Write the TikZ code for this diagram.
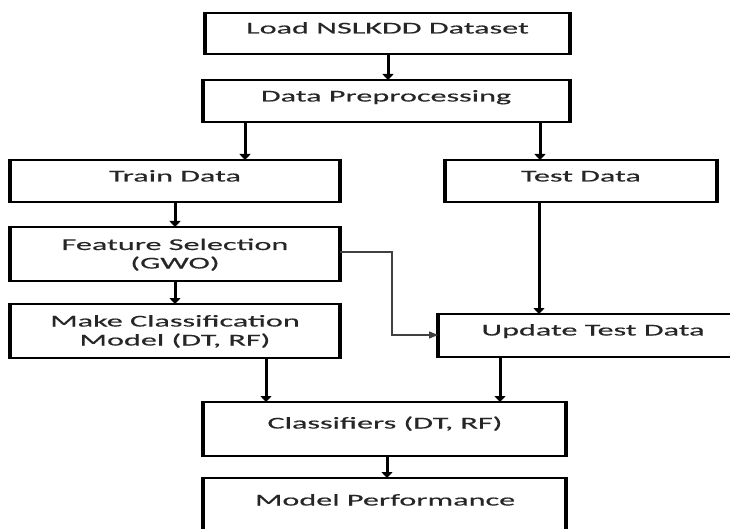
\documentclass[tikz,border=0pt]{standalone}
\usepackage{fontspec}
\setmainfont[FakeStretch=1.95,FakeBold=0.4]{Carlito}
\usetikzlibrary{arrows.meta}
\begin{document}
\begin{tikzpicture}[x=1pt,y=-1pt,
  box/.style={draw=black, line width=2.4pt, rectangle, inner sep=0pt, outer sep=0pt, anchor=north west,
    append after command={(\tikzlastnode.north west) edge[line width=4pt, shorten <=-1.2pt, shorten >=-1.2pt] (\tikzlastnode.south west)
      (\tikzlastnode.north east) edge[line width=4pt, shorten <=-1.2pt, shorten >=-1.2pt] (\tikzlastnode.south east)}},
  lbl/.style={anchor=base, text=black!85, font=\fontsize{16.5}{19}\selectfont, inner sep=0pt},
  arr/.style={line width=3pt, -{Triangle[length=6pt,width=11pt]}},
  thinarr/.style={line width=1.3pt, draw=black!75, -{Triangle[length=9pt,width=7pt]}}]
\useasboundingbox (0,0) rectangle (730,529);
% boxes
\node[box, minimum width=365pt, minimum height=41pt] (load) at (205,13) {};
\node[box, minimum width=367pt, minimum height=42pt] (dp) at (203,80) {};
\node[box, minimum width=330pt, minimum height=42pt] (train) at (10,160) {};
\node[box, minimum width=272pt, minimum height=42pt] (test) at (445,160) {};
\node[box, minimum width=330pt, minimum height=54pt] (fs) at (10,227) {};
\node[box, minimum width=330pt, minimum height=54pt] (mc) at (10,304) {};
\node[box, minimum width=310pt, minimum height=43pt] (upd) at (438,314) {};
\node[box, minimum width=363pt, minimum height=54pt] (cls) at (203,402) {};
\node[box, minimum width=363pt, minimum height=62pt] (mp) at (203,478) {};
% labels
\node[lbl] (loadT) at (387.5,33.5) {Load NSLKDD Dataset};
\node[lbl] (dpT) at (386,101.5) {Data Preprocessing};
\node[lbl] (trainT) at (175,181.5) {Train Data};
\node[lbl] (testT) at (581,181.5) {Test Data};
\node[lbl] (fsT1) at (175,250) {Feature Selection};
\node[lbl] (fsT2) at (175,268.5) {(GWO)};
\node[lbl] (mcT1) at (175,326.5) {Make Classification};
\node[lbl] (mcT2) at (175,345.5) {Model (DT, RF)};
\node[lbl] (updT) at (593,335.5) {Update Test Data};
\node[lbl] (clsT) at (385,428.5) {Classifiers (DT, RF)};
\node[lbl] (mpT) at (385,505.5) {Model Performance};
% connector x positions
\coordinate (xa) at (388,0);
\coordinate (xb) at (245,0);
\coordinate (xc) at (540,0);
\coordinate (xd) at (175,0);
\coordinate (xe) at (539,0);
\coordinate (xf) at (266,0);
\coordinate (xg) at (500,0);
\coordinate (xh) at (387,0);
\coordinate (k1) at (392,252);
\coordinate (k2) at (392,335);
% connectors
\draw[arr] (load.south -| xa) -- (dp.north -| xa);
\draw[arr] (dp.south -| xb) -- (train.north -| xb);
\draw[arr] (dp.south -| xc) -- (test.north -| xc);
\draw[arr] (train.south -| xd) -- (fs.north -| xd);
\draw[arr] (fs.south -| xd) -- (mc.north -| xd);
\draw[arr] (test.south -| xe) -- (upd.north -| xe);
\draw[arr] (mc.south -| xf) -- (cls.north -| xf);
\draw[arr] (upd.south -| xg) -- (cls.north -| xg);
\draw[arr] (cls.south -| xh) -- (mp.north -| xh);
\draw[thinarr] (fs.east |- k1) -- (k1) -- (k2) -- (upd.west |- k2);
\end{tikzpicture}
\end{document}
